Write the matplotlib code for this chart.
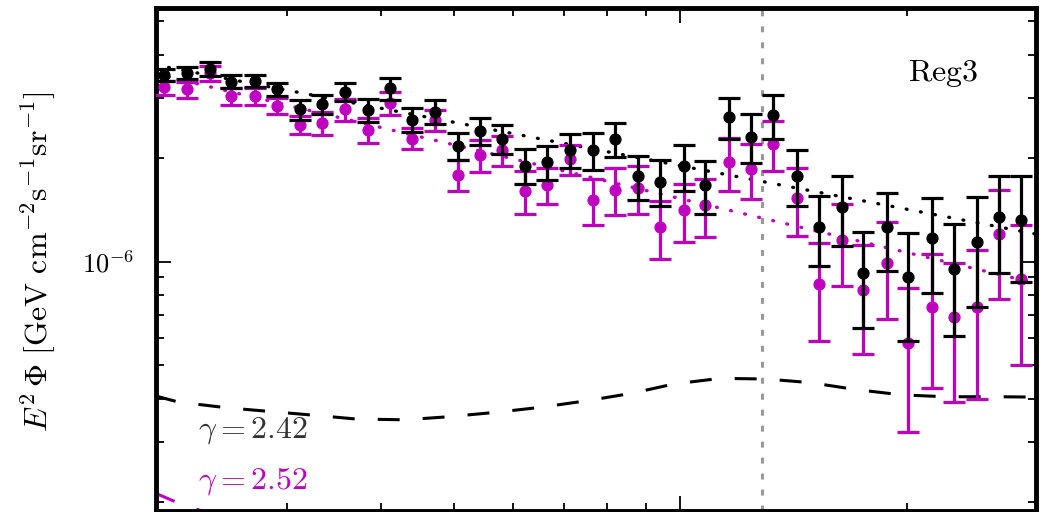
import numpy as np
import matplotlib
matplotlib.use("Agg")
import matplotlib.pyplot as plt
from matplotlib.ticker import FuncFormatter, LogLocator, NullFormatter

plt.rcParams['mathtext.fontset'] = 'cm'
plt.rcParams['font.family'] = 'serif'
plt.rcParams['lines.scale_dashes'] = False

# energy bin centres [GeV]
energy = [2.06, 2.21, 2.37, 2.53, 2.72, 2.91, 3.12, 3.34, 3.58, 3.84,
          4.11, 4.40, 4.72, 5.06, 5.42, 5.80, 6.22, 6.66, 7.14, 7.65,
          8.20, 8.78, 9.41, 10.1, 10.8, 11.6, 12.4, 13.3, 14.3, 15.3,
          16.4, 17.5, 18.8, 20.1, 21.6, 23.1, 24.8, 26.5, 28.4]

# E^2 Phi in units of 1e-6 GeV cm^-2 s^-1 sr^-1
flux_a = [3.49, 3.54, 3.63, 3.34, 3.36, 3.17, 2.77, 2.87, 3.12, 2.76,
          3.19, 2.59, 2.73, 2.17, 2.40, 2.27, 1.90, 1.95, 2.11, 2.11,
          2.27, 1.77, 1.71, 1.90, 1.67, 2.63, 2.31, 2.67, 1.78, 1.26,
          1.44, 0.93, 1.26, 0.90, 1.17, 0.95, 1.14, 1.35, 1.32]
err_a = [0.13, 0.15, 0.17, 0.14, 0.14, 0.14, 0.18, 0.18, 0.19, 0.21,
         0.23, 0.21, 0.22, 0.20, 0.22, 0.22, 0.22, 0.22, 0.24, 0.26,
         0.26, 0.26, 0.26, 0.29, 0.29, 0.36, 0.38, 0.39, 0.33, 0.29,
         0.33, 0.29, 0.32, 0.31, 0.36, 0.34, 0.40, 0.42, 0.45]

flux_b = [3.21, 3.17, 3.53, 3.03, 3.03, 2.84, 2.50, 2.53, 2.77, 2.42,
          2.89, 2.28, 2.58, 1.79, 2.04, 2.11, 1.61, 1.67, 1.99, 1.51,
          1.62, 1.64, 1.26, 1.41, 1.46, 1.95, 1.86, 2.20, 1.53, 0.86,
          1.16, 0.83, 0.99, 0.58, 0.74, 0.69, 0.74, 1.20, 0.89]
err_b = [0.15, 0.17, 0.17, 0.17, 0.17, 0.16, 0.15, 0.20, 0.20, 0.20,
         0.22, 0.16, 0.18, 0.19, 0.22, 0.21, 0.23, 0.20, 0.20, 0.23,
         0.25, 0.26, 0.24, 0.27, 0.28, 0.34, 0.34, 0.37, 0.34, 0.27,
         0.31, 0.29, 0.31, 0.26, 0.31, 0.30, 0.34, 0.42, 0.39]

# power-law fits: E^2 Phi = norm * E^(2 - gamma), norm at 1 GeV
gamma_a, norm_a = 2.42, 5.00
gamma_b, norm_b = 2.52, 5.05

# model templates
model_e = [2.0, 2.15, 2.5, 3.3, 3.7, 4.3, 4.9, 5.7, 6.5, 7.5,
           8.6, 9.8, 11.3, 13.0, 14.9, 17.1, 19.7, 22.5, 26.0, 30.0]
model_a = [0.408, 0.391, 0.376, 0.357, 0.349, 0.347, 0.354, 0.365, 0.377, 0.394,
           0.414, 0.441, 0.458, 0.456, 0.445, 0.425, 0.410, 0.405, 0.405, 0.404]
model_b_e = [2.0, 2.15, 2.5, 3.0]
model_b = [0.213, 0.199, 0.178, 0.165]

e_break = 12.85

E = np.array(energy)
fa, ea = np.array(flux_a) * 1e-6, np.array(err_a) * 1e-6
fb, eb = np.array(flux_b) * 1e-6, np.array(err_b) * 1e-6

fig = plt.figure(figsize=(10.43, 5.12), dpi=100)
ax = fig.add_axes([0.1496, 0.0029, 0.8437, 0.9805])
ax.set_xscale('log')
ax.set_yscale('log')

MAG = (0.75, 0, 0.75)

ax.axvline(e_break, color='0.6', lw=2.2, dashes=(4.3, 7.2), zorder=1)

xx = np.array([2.0, 30.0])
ax.plot(xx, norm_a * 1e-6 * xx ** (2 - gamma_a), color='k', lw=2.4,
        dashes=(0.6, 9.8), dash_capstyle='round', zorder=2)
ax.plot(xx, norm_b * 1e-6 * xx ** (2 - gamma_b), color=MAG, lw=2.4,
        dashes=(0.6, 9.8), dash_capstyle='round', zorder=2)

ax.plot(model_e, np.array(model_a) * 1e-6, color='k', lw=2.2, dashes=(15.8, 16.6), zorder=2)
ax.plot(model_b_e, np.array(model_b) * 1e-6, color=MAG, lw=2.2, dashes=(15.8, 16.6), zorder=2)

ax.errorbar(E, fb, yerr=eb, fmt='o', color=MAG, ms=7.8, elinewidth=2.3,
            capsize=8, capthick=2.3, zorder=3)
ax.errorbar(E, fa, yerr=ea, fmt='o', color='k', ms=7.8, elinewidth=2.3,
            capsize=8, capthick=2.3, zorder=4)

ax.set_xlim(2.01, 29.7)
ax.set_ylim(1.891e-7, 5.445e-6)

for s in ax.spines.values():
    s.set_linewidth(3.5)
ax.tick_params(which='both', direction='in', top=True, right=True, width=1.3)
ax.tick_params(which='major', length=11, pad=16)
ax.tick_params(which='minor', length=6)
ax.tick_params(axis='x', labelbottom=False)
ax.yaxis.set_major_locator(LogLocator(base=10))
ax.yaxis.set_major_formatter(FuncFormatter(lambda v, p: r'$10^{%d}$' % round(np.log10(v))))
ax.yaxis.set_minor_formatter(NullFormatter())
for t in ax.get_yticklabels():
    t.set_fontsize(19)

ax.text(0.894, 0.8556, r'$\mathrm{Reg3}$', transform=ax.transAxes, fontsize=23,
        ha='center', va='baseline')
ax.text(0.0477, 0.1464, r'$\gamma = 2.42$', transform=ax.transAxes, fontsize=23,
        color='0.2', ha='left', va='baseline')
ax.text(0.0477, 0.0442, r'$\gamma = 2.52$', transform=ax.transAxes, fontsize=23,
        color=MAG, ha='left', va='baseline')

fig.text(38 / 1043, 1 - 262 / 512,
         r'$E^2\,\Phi\ [\mathrm{GeV\ cm^{-2}s^{-1}sr^{-1}}]$',
         rotation=90, ha='center', va='center', fontsize=23)

fig.savefig('out.png', dpi=100)
